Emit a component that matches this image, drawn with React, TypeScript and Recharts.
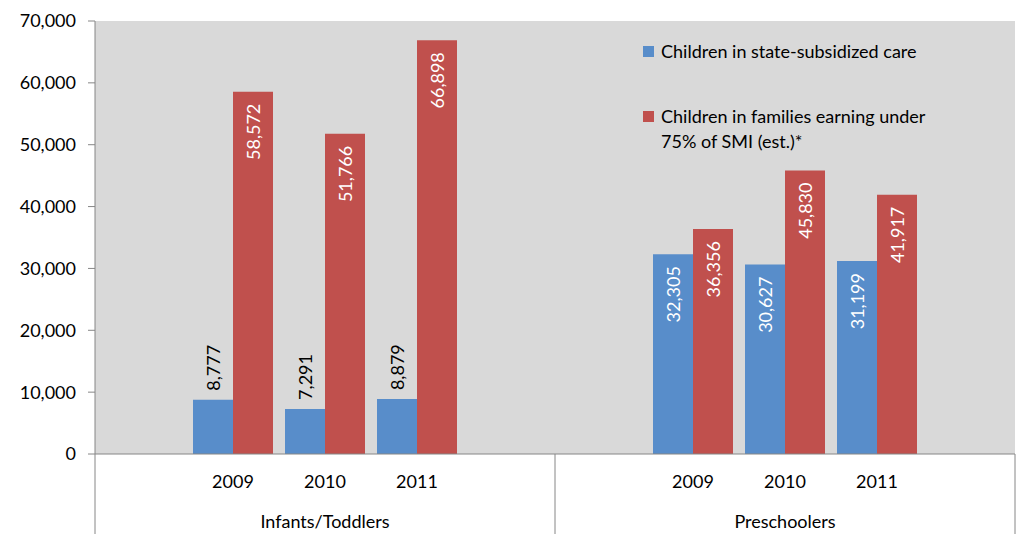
import { ComposedChart, Bar, XAxis, YAxis, CartesianGrid, Legend } from 'recharts';

const groups = ['Infants/Toddlers', 'Preschoolers'];
const years = ['2009', '2010', '2011'];
const subsidized = [
  [8777, 7291, 8879],
  [32305, 30627, 31199],
];
const underSmi = [
  [58572, 51766, 66898],
  [36356, 45830, 41917],
];
const yTicks = [0, 10000, 20000, 30000, 40000, 50000, 60000, 70000];
const seriesOrder = ['subsidized', 'underSmi'];

const FONT = 'Lato, "Noto Sans", sans-serif';
const FS = 18;
const BLUE = '#588DCA';
const RED = '#C0504D';
const GRAY = '#868686';

type Row = {
  key: string;
  year: string;
  group: string;
  first: boolean;
  last: boolean;
  subsidized?: number;
  underSmi?: number;
};

// each group gets an empty slot on either side, like the excel layout
const data: Row[] = [];
groups.forEach((g, gi) => {
  data.push({ key: `${g}-a`, year: '', group: g, first: true, last: false });
  years.forEach((yr, yi) => {
    data.push({
      key: `${g}-${yr}`,
      year: yr,
      group: g,
      first: false,
      last: false,
      subsidized: subsidized[gi][yi],
      underSmi: underSmi[gi][yi],
    });
  });
  data.push({ key: `${g}-b`, year: '', group: g, first: false, last: gi === groups.length - 1 });
});

const fmt = (v: number) => v.toLocaleString('en-US');

const CategoryTick = (props: any) => {
  const { x, y, payload, index } = props;
  const row = data[index];
  if (!row) return null;
  const half = payload?.offset || 46;
  return (
    <g>
      {row.year && (
        <text x={x} y={y + 27} textAnchor="middle" dominantBaseline="central" fontSize={FS} fill="#000">
          {row.year}
        </text>
      )}
      {row.year === '2010' && (
        <text x={x} y={y + 67} textAnchor="middle" dominantBaseline="central" fontSize={FS} fill="#000">
          {row.group}
        </text>
      )}
      {row.first && <line x1={x - half} x2={x - half} y1={y} y2={y + 80} stroke={GRAY} />}
      {row.last && <line x1={x + half} x2={x + half} y1={y} y2={y + 80} stroke={GRAY} />}
    </g>
  );
};

const renderLabel = (props: any) => {
  const { x, y, width, height, value } = props;
  if (value == null) return null;
  const cx = x + width / 2;
  if (height > 80) {
    const ty = y + 12;
    return (
      <text x={cx} y={ty} transform={`rotate(-90 ${cx} ${ty})`} textAnchor="end"
        dominantBaseline="central" fontSize={FS} fill="#fff">
        {fmt(value)}
      </text>
    );
  }
  const ty = y - 9;
  return (
    <text x={cx} y={ty} transform={`rotate(-90 ${cx} ${ty})`} textAnchor="start"
      dominantBaseline="central" fontSize={FS} fill="#000">
      {fmt(value)}
    </text>
  );
};

const LegendBox = (props: any) => {
  const items = [...(props.payload || [])].sort(
    (a: any, b: any) => seriesOrder.indexOf(a.dataKey) - seriesOrder.indexOf(b.dataKey)
  );
  return (
    <div style={{ fontFamily: FONT, fontSize: FS, color: '#000' }}>
      {items.map((p: any, i: number) => (
        <div key={p.value} style={{ display: 'flex', alignItems: 'flex-start', marginBottom: i === 0 ? 40 : 0 }}>
          <span style={{ width: 11, height: 11, background: p.color, marginTop: 7, marginRight: 7, flex: 'none' }} />
          <span style={{ width: 285, lineHeight: '25px' }}>{p.value}</span>
        </div>
      ))}
    </div>
  );
};

export default function App() {
  return (
    <div style={{ position: 'absolute', left: 0, top: 0, fontFamily: FONT }}>
      <ComposedChart width={1021} height={534} data={data} barSize={40} barGap={0}
        margin={{ top: 21, right: 6, bottom: 0, left: 0 }}>
        <CartesianGrid horizontal={false} vertical={false} fill="#D9D9D9" fillOpacity={1} stroke="none" />
        <XAxis dataKey="key" interval={0} height={80} tickSize={0} tickMargin={0}
          axisLine={{ stroke: GRAY }} tickLine={false} tick={<CategoryTick />} />
        <YAxis width={95} domain={[0, 70000]} ticks={yTicks} tickFormatter={fmt}
          tickSize={7} tickMargin={12} axisLine={{ stroke: GRAY }} tickLine={{ stroke: GRAY }}
          tick={{ fill: '#000', fontSize: FS, fontFamily: FONT }} />
        <Legend layout="vertical" align="center" verticalAlign="middle" content={<LegendBox />}
          wrapperStyle={{ position: 'absolute', left: 643, top: 39, width: 360 }} />
        <Bar dataKey="subsidized" name="Children in state-subsidized care" fill={BLUE}
          isAnimationActive={false} label={renderLabel} />
        <Bar dataKey="underSmi" name="Children in families earning under 75% of SMI (est.)*" fill={RED}
          isAnimationActive={false} label={renderLabel} />
      </ComposedChart>
    </div>
  );
}
